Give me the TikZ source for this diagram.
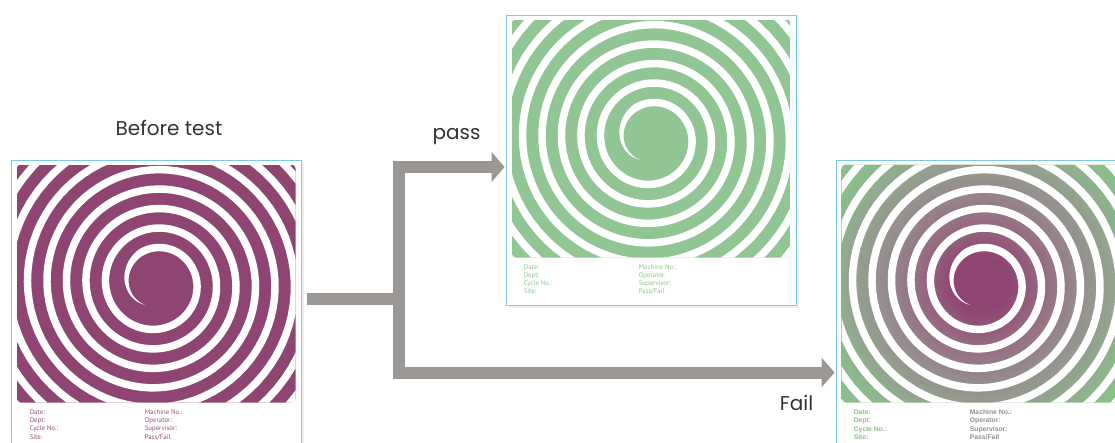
\documentclass[tikz,border=0pt]{standalone}
\usepackage{fontspec}
\setmainfont{Poppins}
\newfontfamily\kartenfont{PT Sans}
\newfontfamily\kartenfett{Liberation Sans}
\usetikzlibrary{arrows.meta,shadows,positioning}

\definecolor{lila}{RGB}{143,69,113}
\definecolor{lilatext}{RGB}{150,78,122}
\definecolor{gruen}{RGB}{145,198,148}
\definecolor{gruentext}{RGB}{140,195,143}
\definecolor{failgruen}{RGB}{140,190,140}
\definecolor{failgrau}{RGB}{150,142,142}
\definecolor{failmauve}{RGB}{150,105,130}
\definecolor{pfeilgrau}{RGB}{155,151,148}
\definecolor{rahmenblau}{RGB}{125,200,235}

\pgfdeclareradialshading{failverlauf}{\pgfpoint{0pt}{0pt}}{%
  color(0pt)=(lila); color(28pt)=(lila); color(60pt)=(failmauve);
  color(100pt)=(failgrau); color(165pt)=(failgruen); color(200pt)=(failgruen)}

% weisse Spirale um (#1,#2)
\newcommand{\spiralspalt}[2]{%
  \fill[white] plot[domain=0:9.5, samples=750, variable=\t]
    ({#1+(24+19.5*\t+7.5*min(1,\t/0.35))*cos(118+360*\t)},
     {#2+(24+19.5*\t+7.5*min(1,\t/0.35))*sin(118+360*\t)})
    -- plot[domain=9.5:0, samples=750, variable=\t]
    ({#1+(24+19.5*\t)*cos(118+360*\t)}, {#2+(24+19.5*\t)*sin(118+360*\t)})
    -- cycle;}

\begin{document}
\begin{tikzpicture}[x=1pt, y=-1pt,
    karte/.style={draw=rahmenblau, line width=0.8pt, fill=white, inner sep=0pt,
      minimum width=290pt, minimum height=290pt,
      drop shadow={shadow xshift=2.5pt, shadow yshift=-2.5pt, opacity=0.12}},
    zeile/.style={anchor=west, inner sep=0pt, text height=5pt, text depth=1pt,
      font=\kartenfont\fontsize{6.8}{7}\selectfont},
    zeilefett/.style={zeile, font=\kartenfett\bfseries\fontsize{6.8}{7}\selectfont},
    titel/.style={anchor=base, inner sep=0pt, text=black!80, font=\fontsize{20}{24}\selectfont},
    fluss/.style={line width=12pt, color=pfeilgrau, line join=miter,
      -{Triangle[width=29pt, length=13pt]}}]
  \useasboundingbox (0,0) rectangle (1115,443);
  \clip (0,0) rectangle (1115,443);

  % Karten
  \node[karte] (before) at (156,305) {};
  \node[karte] (pass) at (651,160) {};
  \node[karte] (fail) at (981,305) {};

  % Karte vor dem Test
  \begin{scope}[shift={(before.north west)}]
    \begin{scope}
      \clip[rounded corners=4pt] (6,5) rectangle (285,243);
      \fill[lila] (6,5) rectangle (285,243);
      \spiralspalt{145.5}{124}
    \end{scope}
    \foreach \txt [count=\i] in {Date:,Dept:,Cycle No.:,Site:}
      \node[zeile, text=lilatext] (before-l\i) at (19,244.2+8.3*\i) {\txt};
    \foreach \txt [count=\i] in {Machine No.:,Operator:,Supervisor:,Pass/Fail}
      \node[zeile, text=lilatext] (before-r\i) at (134,244.2+8.3*\i) {\txt};
  \end{scope}

  % Karte bestanden
  \begin{scope}[shift={(pass.north west)}]
    \begin{scope}
      \clip[rounded corners=4pt] (6,5) rectangle (285,243);
      \fill[gruen] (6,5) rectangle (285,243);
      \spiralspalt{145.5}{124}
    \end{scope}
    \foreach \txt [count=\i] in {Date:,Dept:,Cycle No.:,Site:}
      \node[zeile, text=gruentext] (pass-l\i) at (18,244.2+8.3*\i) {\txt};
    \foreach \txt [count=\i] in {Machine No.:,Operator:,Supervisor:,Pass/Fail}
      \node[zeile, text=gruentext] (pass-r\i) at (133,244.2+8.3*\i) {\txt};
  \end{scope}

  % Karte durchgefallen
  \begin{scope}[shift={(fail.north west)}]
    \begin{scope}
      \clip[rounded corners=4pt] (6,5) rectangle (285,243);
      \node[inner sep=0pt] (fail-verlauf) at (145.5,124) {\pgfuseshading{failverlauf}};
      \spiralspalt{145.5}{124}
    \end{scope}
    \foreach \txt [count=\i] in {Date:,Dept:,Cycle No.:,Site:}
      \node[zeilefett, text=failgruen] (fail-l\i) at (18,244.6+8.3*\i) {\txt};
    \foreach \txt [count=\i] in {Machine No.:,Operator:,Supervisor:,Pass/Fail}
      \node[zeilefett, text=failgrau] (fail-r\i) at (134,244.6+8.3*\i) {\txt};
  \end{scope}

  % Pfeile
  \coordinate (gabel) at (398.5,299);
  \coordinate (passin) at ([yshift=-7pt]pass.west);
  \coordinate (failin) at ([yshift=-67.5pt]fail.west);
  \draw[fluss, shorten <=6pt, shorten >=1pt] ([yshift=6pt]before.east) -- (gabel) |- (passin);
  \draw[fluss, shorten >=1pt] (gabel) |- (failin);

  % Beschriftung
  \node[titel] (vortest) at (169,136) {Before test};
  \node[titel] (passlabel) at (456.5,140) {pass};
  \node[titel] (faillabel) at (796.5,410) {Fail};
\end{tikzpicture}
\end{document}
